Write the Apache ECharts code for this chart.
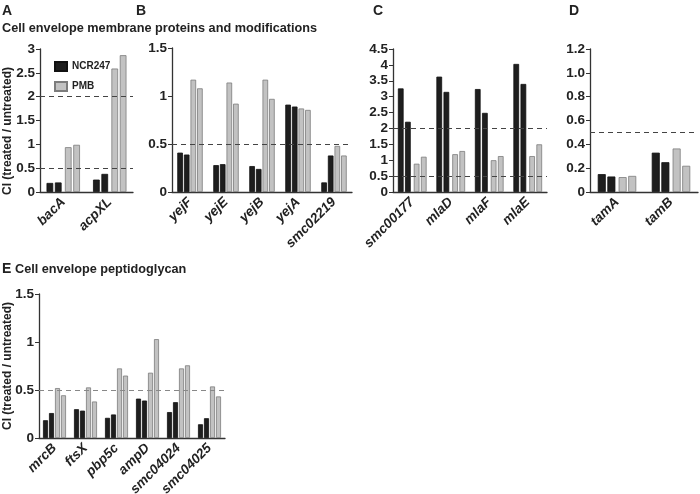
<!DOCTYPE html>
<html>
<head>
<meta charset="utf-8">
<script src="https://cdn.jsdelivr.net/npm/echarts@6/dist/echarts.min.js"></script>
<style>
  html, body { margin: 0; padding: 0; background: #fff; }
  #chart { width: 700px; height: 494px; }
</style>
</head>
<body>
<div id="chart"></div>
<script>
// A - membrane
var catsA = ['bacA', 'acpXL'];
var ncrA1 = [0.19, 0.26];
var ncrA2 = [0.20, 0.38];
var pmbA1 = [0.94, 2.59];
var pmbA2 = [0.99, 2.87];

// B
var catsB = ['yejF', 'yejE', 'yejB', 'yejA', 'smc02219'];
var ncrB1 = [0.41, 0.28, 0.27, 0.91, 0.10];
var ncrB2 = [0.39, 0.29, 0.24, 0.89, 0.38];
var pmbB1 = [1.17, 1.14, 1.17, 0.87, 0.48];
var pmbB2 = [1.08, 0.92, 0.97, 0.855, 0.38];

// C
var catsC = ['smc00177', 'mlaD', 'mlaF', 'mlaE'];
var ncrC1 = [3.26, 3.63, 3.24, 4.03];
var ncrC2 = [2.21, 3.15, 2.49, 3.40];
var pmbC1 = [0.89, 1.19, 1.00, 1.13];
var pmbC2 = [1.11, 1.29, 1.13, 1.50];

// D
var catsD = ['tamA', 'tamB'];
var ncrD1 = [0.15, 0.33];
var ncrD2 = [0.13, 0.25];
var pmbD1 = [0.125, 0.365];
var pmbD2 = [0.135, 0.22];

// E - peptidoglycan
var catsE = ['mrcB', 'ftsX', 'pbp5c', 'ampD', 'smc04024', 'smc04025'];
var ncrE1 = [0.185, 0.30, 0.21, 0.41, 0.27, 0.143];
var ncrE2 = [0.26, 0.285, 0.245, 0.39, 0.373, 0.206];
var pmbE1 = [0.52, 0.527, 0.725, 0.68, 0.725, 0.537];
var pmbE2 = [0.445, 0.38, 0.65, 1.03, 0.757, 0.433];

var FONT = '"Liberation Sans", Arial, sans-serif';
var grids = [], xAxes = [], yAxes = [], series = [];

function addPanel(box, cats, n1, n2, p1, p2, ymax, step, lines, bw, gap, spacer, fmt, dashColor) {
  var i = grids.length;
  grids.push({ left: box[0], top: box[1], width: box[2], height: box[3], outerBoundsMode: 'none' });
  xAxes.push({
    gridIndex: i, type: 'category', data: cats,
    axisLine: { lineStyle: { color: '#333', width: 1.3 } },
    axisTick: { length: 3, lineStyle: { color: '#333' } },
    axisLabel: { interval: 0, rotate: 45, margin: 8, color: '#222', fontSize: 13.5,
      fontStyle: 'italic', fontWeight: 'bold', fontFamily: FONT }
  });
  yAxes.push({
    gridIndex: i, type: 'value', min: 0, max: ymax, interval: step,
    splitLine: { show: false },
    axisLine: { show: true, lineStyle: { color: '#333', width: 1.3 } },
    axisTick: { show: true, length: 4, lineStyle: { color: '#333' } },
    axisLabel: { margin: 5, color: '#222', fontSize: 13.5, fontWeight: 'bold', fontFamily: FONT,
      formatter: fmt }
  });
  function bar(name, data, dark) {
    return {
      type: 'bar', name: name, xAxisIndex: i, yAxisIndex: i, data: data,
      barWidth: bw, barGap: gap, animation: false,
      itemStyle: dark ? { color: '#1e1e1e', borderColor: '#111', borderWidth: 0.8 }
                      : { color: '#c2c2c2', borderColor: '#7c7c7c', borderWidth: 0.8 }
    };
  }
  var first = bar('NCR247', n1, true);
  first.markLine = {
    symbol: 'none', silent: true, animation: false, label: { show: false },
    lineStyle: { type: [5, 4], color: dashColor || '#444', width: 1 },
    data: lines.map(function (v) { return { yAxis: v }; })
  };
  series.push(first, bar('NCR247', n2, true));
  if (spacer) {
    series.push({ type: 'bar', xAxisIndex: i, yAxisIndex: i, data: [], barWidth: spacer, barGap: gap, silent: true });
  }
  series.push(bar('PMB', p1, false), bar('PMB', p2, false));
}

addPanel([40, 49, 93, 143], catsA, ncrA1, ncrA2, pmbA1, pmbA2, 3, 0.5, [0.5, 2], 6.7, '25%', 1.3);
addPanel([172, 48, 180, 144], catsB, ncrB1, ncrB2, pmbB1, pmbB2, 1.5, 0.5, [0.5], 5.6, '18%', 0);
addPanel([393, 49, 154, 143], catsC, ncrC1, ncrC2, pmbC1, pmbC2, 4.5, 0.5, [0.5, 2], 5.7, '25%', 1.3);
addPanel([590, 49, 108, 143], catsD, ncrD1, ncrD2, pmbD1, pmbD2, 1.2, 0.2, [0.5], 8, '20%', 1.4,
  function (v) { return v === 0 ? '0' : v.toFixed(1); });
addPanel([39, 294, 186, 144], catsE, ncrE1, ncrE2, pmbE1, pmbE2, 1.5, 0.5, [0.5], 5, '20%', 0, null, '#888');

function txt(x, y, s, size, extra) {
  var o = { type: 'text', x: x, y: y, silent: true,
    style: { text: s, fill: '#222', font: 'bold ' + size + 'px ' + FONT } };
  if (extra) { for (var k in extra) { o.style[k] = extra[k]; } }
  return o;
}
var yTitle = 'CI (treated / untreated)';
var graphics = [
  txt(2, 4, 'A', 14), txt(2, 22, 'Cell envelope membrane proteins and modifications', 12.7),
  txt(136, 4, 'B', 14), txt(373, 4, 'C', 14), txt(569, 4, 'D', 14),
  txt(2, 262, 'E', 14), txt(15, 263, 'Cell envelope peptidoglycan', 12.7)
];
var t1 = txt(8, 131, yTitle, 12, { align: 'center', verticalAlign: 'middle' });
t1.rotation = Math.PI / 2;
var t2 = txt(8, 366, yTitle, 12, { align: 'center', verticalAlign: 'middle' });
t2.rotation = Math.PI / 2;
graphics.push(t1, t2);

var chart = echarts.init(document.getElementById('chart'));
chart.setOption({
  animation: false,
  backgroundColor: '#fff',
  grid: grids,
  xAxis: xAxes,
  yAxis: yAxes,
  legend: {
    data: ['NCR247', 'PMB'], orient: 'vertical', left: 49, top: 56,
    itemWidth: 12, itemHeight: 9, itemGap: 9, icon: 'rect', selectedMode: false,
    textStyle: { fontSize: 10, fontWeight: 'bold', color: '#222', fontFamily: FONT }
  },
  graphic: graphics,
  series: series
});
</script>
</body>
</html>
